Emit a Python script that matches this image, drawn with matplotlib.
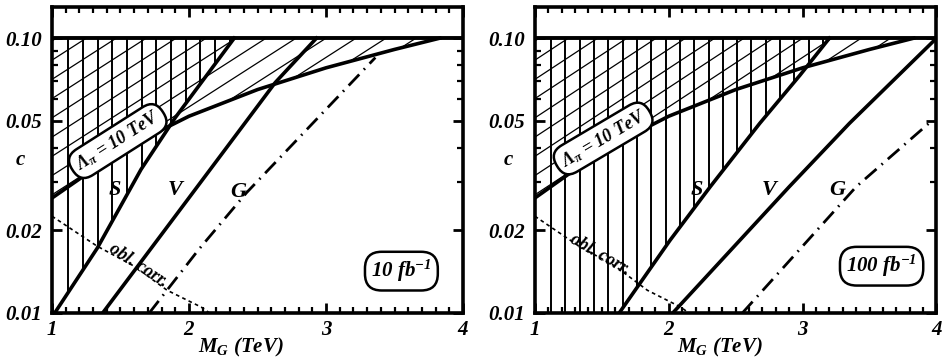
import numpy as np
import matplotlib
matplotlib.use('Agg')
import matplotlib.pyplot as plt
from matplotlib.patches import Polygon
from matplotlib.collections import LineCollection
from matplotlib.ticker import FixedLocator, MultipleLocator, NullFormatter, FixedFormatter

plt.rcParams['font.family'] = ['Liberation Serif', 'DejaVu Serif']
plt.rcParams['font.weight'] = 'bold'
plt.rcParams['font.style'] = 'italic'
plt.rcParams['mathtext.fontset'] = 'custom'
plt.rcParams['mathtext.it'] = 'Liberation Serif:bold:italic'
plt.rcParams['mathtext.rm'] = 'Liberation Serif:bold:italic'
plt.rcParams['mathtext.bf'] = 'Liberation Serif:bold:italic'

######## DATA

# Lambda_pi = 10 TeV line (same in both panels)
lam_m = [1.0, 1.5, 2.0, 2.5, 3.0, 3.5, 3.83]
lam_c = [0.0262, 0.039, 0.052, 0.065, 0.078, 0.091, 0.100]

# oblique corrections bound (dashed)
obl_m = [1.0, 1.33, 1.60, 1.84, 2.09, 2.15]
obl_c = [0.0225, 0.0175, 0.0148, 0.0121, 0.0105, 0.0100]

# 10 fb^-1
s10_m = [1.02, 1.33, 1.65, 1.90, 2.33]
s10_c = [0.010, 0.0172, 0.0333, 0.0514, 0.100]
v10_m = [1.37, 2.10, 2.63, 2.93]
v10_c = [0.010, 0.0306, 0.069, 0.100]
g10_m = [1.71, 2.07, 2.42, 3.36]
g10_c = [0.010, 0.017, 0.0274, 0.085]

# 100 fb^-1
s100_m = [1.63, 2.01, 2.31, 2.68, 2.98, 3.20]
s100_c = [0.010, 0.0184, 0.0288, 0.049, 0.0733, 0.100]
v100_m = [2.03, 2.90, 3.35, 4.0]
v100_c = [0.010, 0.0288, 0.049, 0.100]
g100_m = [2.55, 3.40, 3.97]
g100_c = [0.010, 0.0288, 0.0503]

panels = [
    dict(s=(s10_m, s10_c), v=(v10_m, v10_c), g=(g10_m, g10_c),
         lum=r'10 fb$^{-1}$', lum_pos=(3.55, 0.0142),
         letters=[('S', 1.46, 0.028), ('V', 1.90, 0.028), ('G', 2.36, 0.0276)],
         lam_x=1.48, obl_x=1.63, rect=[0.055, 0.133, 0.435, 0.848], clab=-0.078),
    dict(s=(s100_m, s100_c), v=(v100_m, v100_c), g=(g100_m, g100_c),
         lum=r'100 fb$^{-1}$', lum_pos=(3.59, 0.0148),
         letters=[('S', 2.21, 0.028), ('V', 2.75, 0.028), ('G', 3.26, 0.028)],
         lam_x=1.51, obl_x=1.49, rect=[0.566, 0.133, 0.425, 0.848], clab=-0.067),
]

FS = 15
BOX = dict(boxstyle='round,pad=0.3,rounding_size=0.8', fc='white', ec='black', lw=1.8)


def line_angle(ax, mm, cc, x0, dx=0.05):
    y0 = np.interp(x0 - dx, mm, np.log10(cc))
    y1 = np.interp(x0 + dx, mm, np.log10(cc))
    p0 = ax.transData.transform((x0 - dx, 10**y0))
    p1 = ax.transData.transform((x0 + dx, 10**y1))
    return np.degrees(np.arctan2(p1[1] - p0[1], p1[0] - p0[0])), 10**np.interp(x0, mm, np.log10(cc))


fig = plt.figure(figsize=(9.45, 3.61), dpi=100)

for p in panels:
    ax = fig.add_axes(p['rect'])
    ax.set_yscale('log')
    ax.set_xlim(1, 4)
    ax.set_ylim(0.01, 0.13)

    # vertical hatching, left of the S line
    sm, sc = p['s']
    spoly = Polygon([(1, 0.01)] + list(zip(sm, sc)) + [(1, 0.1)], closed=True,
                    transform=ax.transData, fc='none', ec='none')
    ax.add_patch(spoly)
    vl = ax.vlines(np.arange(1.12, 4.0, 0.107), 0.01, 0.1, color='black', lw=1.4, zorder=1)
    vl.set_clip_path(spoly)

    # diagonal hatching, above the Lambda_pi line
    lpoly = Polygon([(1, 0.1)] + list(zip(lam_m, lam_c)), closed=True,
                    transform=ax.transData, fc='none', ec='none')
    ax.add_patch(lpoly)
    k = 0.32
    segs = [[(1, 10**a), (4, 10**(a + 3 * k))] for a in np.arange(-2.55, -0.95, 0.07)]
    lc = LineCollection(segs, colors='black', lw=0.9, zorder=1)
    ax.add_collection(lc)
    lc.set_clip_path(lpoly)

    # boundaries
    ax.axhline(0.1, color='black', lw=2.8, zorder=3)
    ax.plot(lam_m, lam_c, color='black', lw=2.6, zorder=3)
    ax.plot(sm, sc, color='black', lw=2.6, zorder=3)
    ax.plot(*p['v'], color='black', lw=2.6, zorder=3)
    ax.plot(*p['g'], color='black', lw=2.0, ls=(0, (5.5, 2.4, 0.6, 2.4)), zorder=3)
    ax.plot(obl_m, obl_c, color='black', lw=1.2, ls=(0, (2.2, 2.0)), zorder=3)

    for t, x, y in p['letters']:
        ax.text(x, y, t, fontsize=FS + 1, ha='center', va='center', zorder=4)

    ang, cl = line_angle(ax, lam_m, lam_c, p['lam_x'])
    ax.text(p['lam_x'], cl * 1.1, r'$\Lambda_\pi$ = 10 TeV', fontsize=13, rotation=ang,
            rotation_mode='anchor', ha='center', va='center', bbox=BOX, zorder=5)

    ang, cl = line_angle(ax, obl_m, obl_c, p['obl_x'], dx=0.15)
    ax.text(p['obl_x'], cl * 1.03, 'obl. corr.', fontsize=13, rotation=ang,
            rotation_mode='anchor', ha='center', va='center', zorder=4)

    ax.text(*p['lum_pos'], p['lum'], fontsize=FS, ha='center', va='center', bbox=BOX, zorder=5)

    # axes and ticks
    ax.xaxis.set_major_locator(FixedLocator([1, 2, 3, 4]))
    ax.xaxis.set_minor_locator(MultipleLocator(0.1))
    ax.yaxis.set_major_locator(FixedLocator([0.01, 0.02, 0.05, 0.1]))
    ax.yaxis.set_major_formatter(FixedFormatter(['0.01', '0.02', '0.05', '0.10']))
    ax.yaxis.set_minor_locator(FixedLocator([0.03, 0.04, 0.06, 0.07, 0.08, 0.09]))
    ax.yaxis.set_minor_formatter(NullFormatter())
    ax.tick_params(which='both', direction='in', top=True, right=True, labelsize=FS)
    ax.tick_params(which='major', length=7, width=2)
    ax.tick_params(which='minor', length=4, width=1.6)
    ax.tick_params(axis='y', pad=7)
    ax.tick_params(axis='x', pad=5)
    for s in ax.spines.values():
        s.set_linewidth(2.6)

    ax.text(0.46, -0.112, r'$M_G$ (TeV)', fontsize=FS, transform=ax.transAxes,
            ha='center', va='center')
    ax.text(p['clab'], 0.5, 'c', fontsize=FS, transform=ax.transAxes, ha='center', va='center')

fig.savefig('out.png', dpi=100)
